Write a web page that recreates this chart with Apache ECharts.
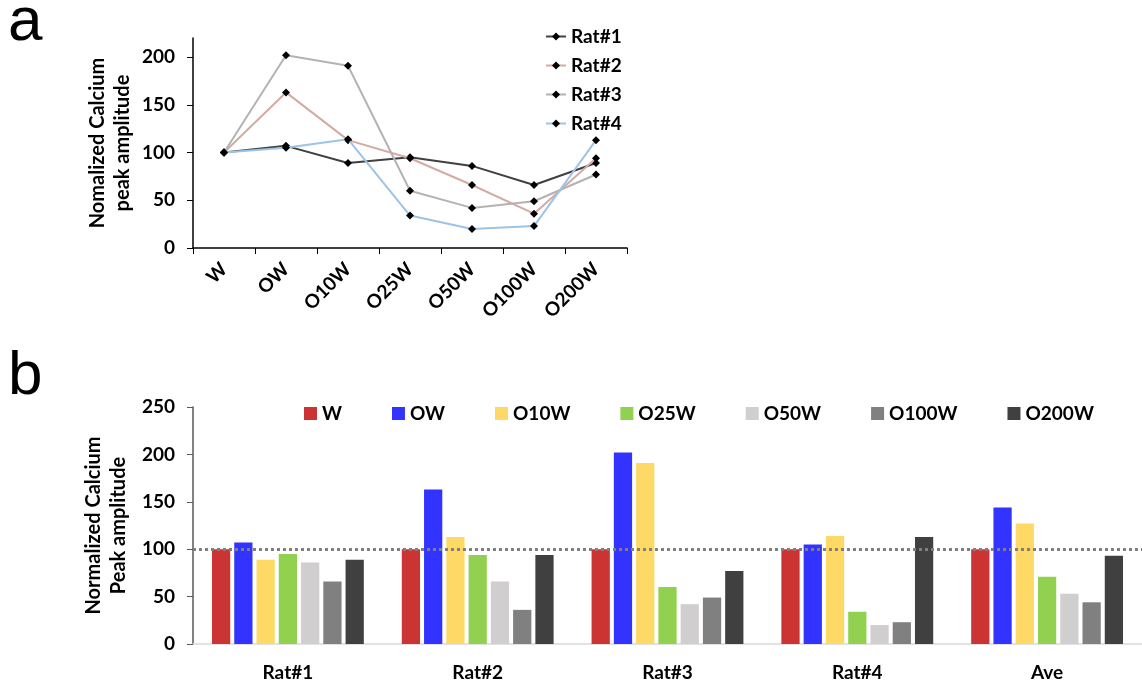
<!DOCTYPE html>
<html>
<head>
<meta charset="utf-8">
<script src="https://cdn.jsdelivr.net/npm/echarts@6/dist/echarts.min.js"></script>
<style>
html,body{margin:0;padding:0;background:#fff;}
#c{width:1142px;height:687px;}
</style>
</head>
<body>
<div id="c"></div>
<script>
// ---- data ----
var conditions = ['W','OW','O10W','O25W','O50W','O100W','O200W'];
var rats = ['Rat#1','Rat#2','Rat#3','Rat#4'];
var groups = ['Rat#1','Rat#2','Rat#3','Rat#4','Ave'];
var rat1 = [100,107,89,95,86,66,89];
var rat2 = [100,163,113,94,66,36,94];
var rat3 = [100,202,191,60,42,49,77];
var rat4 = [100,105,114,34,20,23,113];
var ave  = [100,144,127,71,53,44,93];
var topTicks = [0,50,100,150,200];
var bottomTicks = [0,50,100,150,200,250];
var refLevel = 100;

var lineColors = ['#404040','#d4aaa3','#b3b3b3','#9dc3e6'];
var barColors = ['#cc3333','#3333ff','#ffd966','#92d050','#d0cece','#808080','#404040'];
var FONT = 'Lato';

var ratData = [rat1, rat2, rat3, rat4];

var chart = echarts.init(document.getElementById('c'));

var series = [];
rats.forEach(function(name, i){
  series.push({
    name: name, type: 'line', xAxisIndex: 0, yAxisIndex: 0,
    data: ratData[i],
    symbol: 'diamond', symbolSize: 8,
    itemStyle: {color: '#000'},
    lineStyle: {color: lineColors[i], width: 2},
    z: 3 + i
  });
});
conditions.forEach(function(c, j){
  var vals = ratData.map(function(r){ return r[j]; }).concat([ave[j]]);
  var s = {
    name: c, type: 'bar', xAxisIndex: 1, yAxisIndex: 1,
    data: vals,
    itemStyle: {color: barColors[j]},
    barGap: '22%', barCategoryGap: '20%'
  };
  if (j === 0) {
    s.markLine = {
      silent: true, symbol: ['none','none'], label: {show: false},
      lineStyle: {color: '#7f7f7f', type: [3,3], width: 3},
      data: [{yAxis: refLevel}],
      z: 10
    };
  }
  series.push(s);
});

var labelStyle = {fontFamily: FONT, fontWeight: 'bold', fontSize: 19, color: '#000'};
var titleStyle = {fontFamily: FONT, fontWeight: 'bold', fontSize: 20, color: '#000', lineHeight: 25};

chart.setOption({
  animation: false,
  textStyle: {fontFamily: FONT},
  graphic: [
    {type: 'text', left: 8, top: -8, style: {text: 'a', font: '62px "Liberation Sans"', fill: '#000'}},
    {type: 'text', left: 8, top: 346, style: {text: 'b', font: '62px "Liberation Sans"', fill: '#000'}}
  ],
  legend: [
    {
      data: rats, orient: 'vertical', left: 540, top: 21, itemGap: 8,
      itemWidth: 20, itemHeight: 10,
      textStyle: {fontFamily: FONT, fontWeight: 'bold', fontSize: 19, color: '#000', lineHeight: 21}
    },
    {
      data: conditions, orient: 'horizontal', left: 299, top: 399, itemGap: 50,
      itemWidth: 13, itemHeight: 13, icon: 'rect',
      textStyle: {fontFamily: FONT, fontWeight: 'bold', fontSize: 19, color: '#000'}
    }
  ],
  grid: [
    {left: 193, top: 38, width: 434, height: 210},
    {left: 193, top: 407, width: 955, height: 237}
  ],
  xAxis: [
    {
      gridIndex: 0, type: 'category', data: conditions, boundaryGap: true,
      axisLine: {lineStyle: {color: '#000', width: 1.5}},
      axisTick: {show: true, alignWithLabel: false, length: 6, lineStyle: {color: '#000'}},
      axisLabel: Object.assign({rotate: 45, margin: 18, interval: 0}, labelStyle)
    },
    {
      gridIndex: 1, type: 'category', data: groups,
      axisLine: {lineStyle: {color: '#d9d9d9', width: 1.5}},
      axisTick: {show: false},
      axisLabel: Object.assign({margin: 19, interval: 0}, labelStyle)
    }
  ],
  yAxis: [
    {
      gridIndex: 0, type: 'value', min: 0, max: 220, interval: 50,
      name: 'Nomalized Calcium\npeak amplitude', nameLocation: 'middle', nameGap: 58,
      nameTextStyle: titleStyle,
      axisLine: {show: true, lineStyle: {color: '#000', width: 1.5}},
      axisTick: {show: true, length: 6, customValues: topTicks, lineStyle: {color: '#000'}},
      axisLabel: Object.assign({customValues: topTicks, margin: 18}, labelStyle),
      splitLine: {show: false}
    },
    {
      gridIndex: 1, type: 'value', min: 0, max: 250, interval: 50,
      name: 'Normalized Calcium\nPeak amplitude', nameLocation: 'middle', nameGap: 57,
      nameTextStyle: titleStyle,
      axisLine: {show: true, lineStyle: {color: '#595959', width: 1.5}},
      axisTick: {show: true, length: 6, customValues: bottomTicks, lineStyle: {color: '#595959'}},
      axisLabel: Object.assign({customValues: bottomTicks, margin: 18}, labelStyle),
      splitLine: {show: false}
    }
  ],
  series: series
});
</script>
</body>
</html>
